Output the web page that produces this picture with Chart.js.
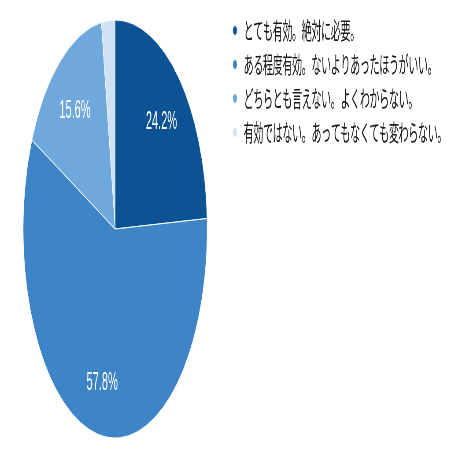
<!DOCTYPE html>
<html>
<head>
<meta charset="utf-8">
<script src="https://cdn.jsdelivr.net/npm/chart.js@4"></script>
<style>
  html, body { margin: 0; padding: 0; overflow: hidden; background: #fff; }
  #frame { width: 458px; height: 458px; overflow: hidden; }
  /* chart is drawn wide and squeezed horizontally, like the reference */
  #wrap { width: 1040px; height: 458px; transform: scaleX(0.4404); transform-origin: 0 0; }
</style>
</head>
<body>
<div id="frame"><div id="wrap"><canvas id="pieChart"></canvas></div></div>
<script>
const answers = [
  "とても有効。絶対に必要。",
  "ある程度有効。ないよりあったほうがいい。",
  "どちらとも言えない。よくわからない。",
  "有効ではない。あってもなくても変わらない。"
];
const shares = [24.2, 57.8, 15.6, 2.4];
const sliceColors = ["#0b5394", "#3d85c6", "#6fa8dc", "#cfe2f3"];

// slightly tighter legend text, set again after every canvas resize
const tightText = {
  id: "tightText",
  beforeLayout(chart) { chart.ctx.letterSpacing = "-1px"; },
  beforeDraw(chart) { chart.ctx.letterSpacing = "-1px"; }
};

// percentage text inside the bigger slices
const sliceLabels = {
  id: "sliceLabels",
  afterDatasetsDraw(chart) {
    const ctx = chart.ctx;
    const meta = chart.getDatasetMeta(0);
    ctx.save();
    ctx.letterSpacing = "0px";
    ctx.fillStyle = "#ffffff";
    ctx.font = "25px 'Liberation Sans', Arial, sans-serif";
    ctx.textAlign = "center";
    ctx.textBaseline = "alphabetic";
    meta.data.forEach((arc, i) => {
      if (shares[i] < 5) return;
      const p = arc.getProps(["x", "y", "startAngle", "endAngle", "outerRadius"], true);
      const mid = (p.startAngle + p.endAngle) / 2;
      const r = p.outerRadius * 0.73;
      ctx.fillText(shares[i].toFixed(1) + "%", p.x + Math.cos(mid) * r, p.y + Math.sin(mid) * r + 11);
    });
    ctx.restore();
  }
};

new Chart(document.getElementById("pieChart"), {
  type: "pie",
  data: {
    labels: answers,
    datasets: [{
      data: shares,
      backgroundColor: sliceColors,
      borderColor: "#ffffff",
      borderWidth: 1
    }]
  },
  options: {
    responsive: true,
    maintainAspectRatio: false,
    animation: false,
    radius: 209,
    layout: { padding: { left: 8.5, right: 19.5, top: 8, bottom: 8 } },
    plugins: {
      tooltip: { enabled: false },
      legend: {
        position: "right",
        align: "start",
        labels: {
          usePointStyle: true,
          pointStyle: "circle",
          boxWidth: 16,
          boxHeight: 7,
          padding: 11,
          color: "#1a1a1a",
          font: { family: "'Noto Sans CJK JP', sans-serif", size: 23 }
        }
      }
    }
  },
  plugins: [tightText, sliceLabels]
});
</script>
</body>
</html>
